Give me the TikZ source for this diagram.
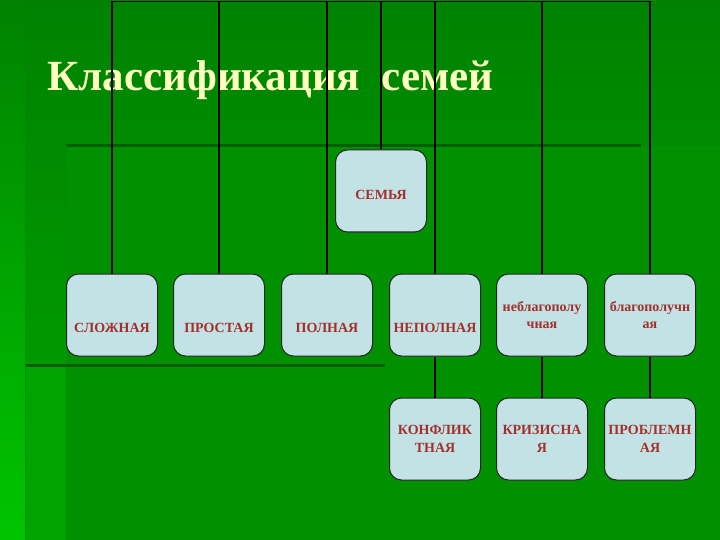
\documentclass[tikz,border=0pt]{standalone}
\usepackage{fontspec}
\setmainfont{Liberation Serif}
\definecolor{bgdark}{HTML}{008200}
\definecolor{bgmid}{HTML}{009000}
\definecolor{bgleft}{HTML}{00A400}
\definecolor{bgbright}{HTML}{00C400}
\definecolor{edgegreen}{HTML}{005E00}
\definecolor{boxblue}{HTML}{C2E2E6}
\definecolor{labelred}{HTML}{A3302A}
\definecolor{titleyellow}{HTML}{FFFFC0}
\tikzset{
  familybox/.style={draw=black!85, line width=1pt, fill=boxblue, rounded corners=12pt,
    minimum width=91pt, minimum height=82pt, inner sep=1pt, align=center,
    text=labelred, font=\fontsize{14}{17.5}\selectfont\bfseries},
  conn/.style={line width=1.6pt, black},
  edge line/.style={line width=3pt, edgegreen}
}
\begin{document}
\begin{tikzpicture}[x=1pt,y=-1pt]
 \useasboundingbox (0,0) rectangle (720,540) ;

 % background
 \shade[top color=bgdark, bottom color=bgleft] (0,0) rectangle (720,540) ;
 \shade[top color=bgdark, bottom color=bgbright] (0,0) rectangle (25,540) ;
 \fill[bgmid] (66,146) rectangle (720,540) ;
 \fill[bgleft] (25,365) rectangle (66,540) ;
 \draw[edge line] (66,146) -- (641,146) ;
 \draw[edgegreen!70!green, line width=1pt] (66,146) -- (66,540) ;
 \draw[edge line] (25,365) -- (385,365) ;
 \draw[edgegreen!70!green, line width=1pt] (25,365) -- (25,540) ;

 \node[anchor=base west, text=titleyellow, font=\fontsize{43}{48}\selectfont\bfseries]
   (title) at (44,91) {Классификация\ \ семей} ;

 % boxes
 \node[familybox] (semya) at (381,191) {~\\СЕМЬЯ} ;

 \node[familybox] (slozh)   at (112,315) {~\\~\\СЛОЖНАЯ} ;
 \node[familybox] (prost)   at (219,315) {~\\~\\ПРОСТАЯ} ;
 \node[familybox] (poln)    at (327,315) {~\\~\\ПОЛНАЯ} ;
 \node[familybox] (nepoln)  at (435,315) {~\\~\\НЕПОЛНАЯ} ;
 \node[familybox] (neblago) at (542,315) {неблагополу\\чная} ;
 \node[familybox] (blago)   at (650,315) {благополучн\\ая} ;

 \node[familybox] (konfl)  at (435,439) {КОНФЛИК\\ТНАЯ} ;
 \node[familybox] (kriz)   at (542,439) {КРИЗИСНА\\Я} ;
 \node[familybox] (probl)  at (650,439) {ПРОБЛЕМН\\АЯ} ;

 % connectors
 \coordinate (bar) at (0,1.5) ;
 \foreach \b in {slozh,prost,poln,semya,nepoln,neblago,blago}
   \draw[conn] (\b.north) -- (\b.north |- bar) ;
 \draw[conn] (slozh.north |- bar) -- (blago.north |- bar) ;

 \draw[conn] (nepoln) -- (konfl) ;
 \draw[conn] (neblago) -- (kriz) ;
 \draw[conn] (blago) -- (probl) ;
\end{tikzpicture}
\end{document}
